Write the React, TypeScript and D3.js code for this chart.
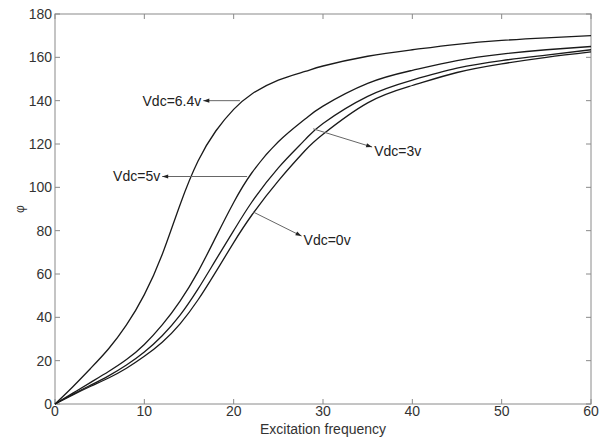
import React from 'react';
import * as d3 from 'd3';

// excitation frequency samples (shared by all curves)
const freq = [0, 2, 4, 6, 8, 10, 12, 14, 16, 18, 20, 22, 25, 28, 30, 35, 40, 45, 50, 55, 60];

// phase, one array per bias voltage
const phi64 = [0, 8, 16.5, 25.5, 36.5, 50.5, 69, 92, 112, 126, 136, 143, 149.5, 153.5, 156, 160.5, 163.5, 166, 167.8, 169, 170];
const phi5 = [0, 5, 10, 15, 20.5, 27.5, 36.5, 47.5, 61, 77, 93, 106.5, 121, 131.5, 137.5, 148, 154, 158.5, 161.5, 163.5, 165];
const phi3 = [0, 4.5, 8.7, 13, 18, 24, 31.5, 41, 53, 66.5, 80, 93, 109, 122, 129.5, 142, 149.5, 155, 158.5, 161, 163.5];
const phi0 = [0, 4.2, 8.2, 12, 16.5, 22, 28.5, 37, 48, 61, 74.5, 87, 103, 117, 124.5, 139, 147, 153, 157, 160, 162.5];

const xTicks = [0, 10, 20, 30, 40, 50, 60];
const yTicks = [0, 20, 40, 60, 80, 100, 120, 140, 160, 180];

// annotation: label, point on curve, arrow tip, text anchor side
const notes = [
  { label: 'Vdc=6.4v', from: [20.7, 140], tip: [16.6, 140], side: 'end' },
  { label: 'Vdc=5v', from: [21.5, 105], tip: [12.0, 105], side: 'end' },
  { label: 'Vdc=3v', from: [28.9, 127], tip: [35.5, 118.6], side: 'start' },
  { label: 'Vdc=0v', from: [22.2, 88.6], tip: [27.6, 77.5], side: 'start' },
];

const W = 608;
const H = 439;
const margin = { left: 55, right: 17, top: 14, bottom: 35 };

export default function App() {
  const x = d3.scaleLinear().domain([0, 60]).range([margin.left, W - margin.right]);
  const y = d3.scaleLinear().domain([0, 180]).range([H - margin.bottom, margin.top]);

  const line = d3
    .line<number>()
    .x((_, i) => x(freq[i]))
    .y((d) => y(d))
    .curve(d3.curveNatural);

  const series = [phi64, phi5, phi3, phi0];
  const x0 = x(0), x1 = x(60), y0 = y(0), y1 = y(180);
  const tk = 5;
  const axisColor = '#8a8a8a';
  const textColor = '#333';
  const font = 'Arial, "Liberation Sans", sans-serif';

  return (
    <svg
      width={W}
      height={H}
      style={{ position: 'absolute', left: 0, top: 0, background: '#fff' }}
      fontFamily={font}
    >
      <defs>
        <marker id="arr" viewBox="0 0 10 10" refX="10" refY="5" markerWidth="7" markerHeight="6" orient="auto">
          <path d="M0,1.5 L10,5 L0,8.5 z" fill="#222" />
        </marker>
      </defs>

      <rect x={x0} y={y1} width={x1 - x0} height={y0 - y1} fill="none" stroke={axisColor} strokeWidth={1} />

      {xTicks.map((t) => (
        <g key={'x' + t}>
          <line x1={x(t)} x2={x(t)} y1={y0} y2={y0 - tk} stroke={axisColor} />
          <line x1={x(t)} x2={x(t)} y1={y1} y2={y1 + tk} stroke={axisColor} />
          <text x={x(t)} y={y0 + 12} textAnchor="middle" fontSize={14} fill={textColor}>
            {t}
          </text>
        </g>
      ))}

      {yTicks.map((t) => (
        <g key={'y' + t}>
          <line x1={x0} x2={x0 + tk} y1={y(t)} y2={y(t)} stroke={axisColor} />
          <line x1={x1} x2={x1 - tk} y1={y(t)} y2={y(t)} stroke={axisColor} />
          <text x={x0 - 3} y={y(t)} dy="0.35em" textAnchor="end" fontSize={14} fill={textColor}>
            {t}
          </text>
        </g>
      ))}

      <text x={(x0 + x1) / 2} y={H - 5} textAnchor="middle" fontSize={14} fill={textColor}>
        Excitation frequency
      </text>
      <text
        transform={`translate(20,${(y0 + y1) / 2}) rotate(-90)`}
        textAnchor="middle"
        dy="0.35em"
        fontSize={12}
        fill={textColor}
      >
        φ
      </text>

      {series.map((s, i) => (
        <path key={i} d={line(s) ?? ''} fill="none" stroke="#1a1a1a" strokeWidth={1.3} />
      ))}

      {notes.map((n) => {
        const tx = x(n.tip[0]);
        const ty = y(n.tip[1]);
        return (
          <g key={n.label}>
            <line x1={x(n.from[0])} y1={y(n.from[1])} x2={tx} y2={ty} stroke="#666" strokeWidth={1} markerEnd="url(#arr)" />
            <text
              x={n.side === 'end' ? tx - 2 : tx + 2}
              y={ty + (n.side === 'end' ? 0 : 4)}
              dy="0.35em"
              textAnchor={n.side}
              fontSize={14}
              fill="#222"
            >
              {n.label}
            </text>
          </g>
        );
      })}
    </svg>
  );
}
